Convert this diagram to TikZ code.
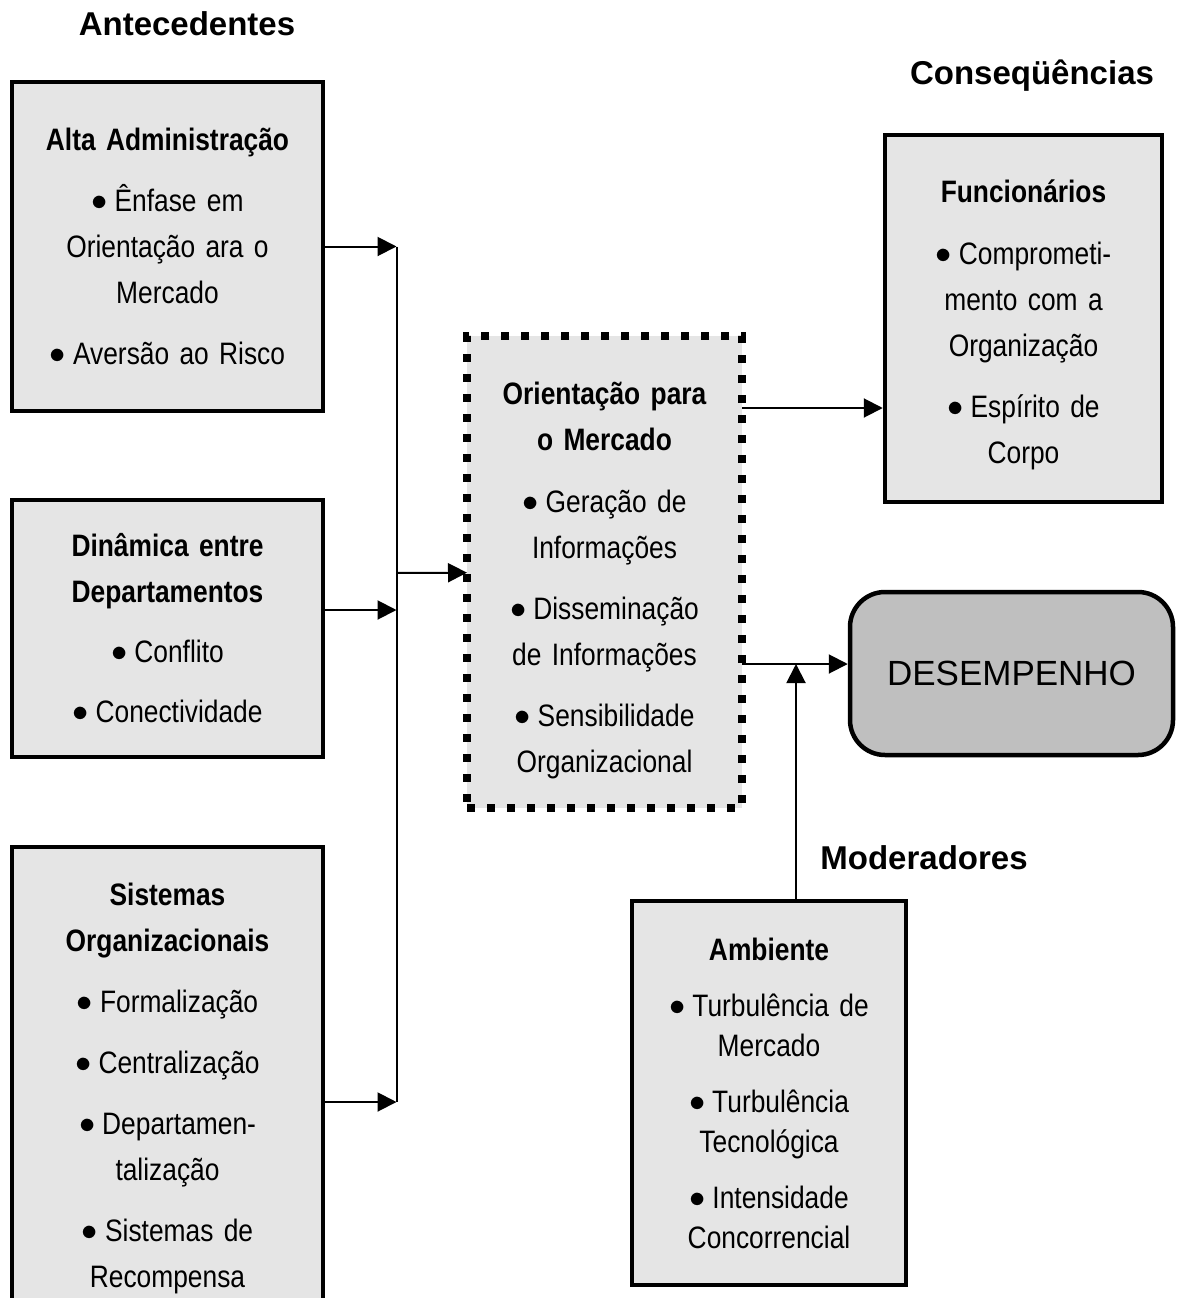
\documentclass[tikz,border=0pt]{standalone}
\usepackage{fontspec}
\usepackage{graphicx}
\setmainfont[FakeStretch=0.85]{Liberation Sans}
\newfontfamily\widefont{Liberation Sans}
\usetikzlibrary{positioning,arrows.meta}
\newcommand{\itm}{\raisebox{1pt}{\scalebox{1.3}{$\bullet$}}\hspace{7pt}}
\tikzstyle{B} = [rectangle,
			draw, line width=4.5pt, fill=black!10,
			text width=290pt, text centered, inner sep=0pt,
			minimum width=311pt,
			font=\fontsize{31}{46}\selectfont]
\tikzstyle{O} = [rectangle,
			draw, line width=8pt, dash pattern=on 8pt off 12pt,
			fill=black!10, text width=255pt, text centered,
			inner sep=0pt, outer sep=0pt,
			minimum width=275pt, minimum height=472pt,
			font=\fontsize{31}{46}\selectfont]
\tikzstyle{D} = [rectangle,
			draw, line width=4.5pt, fill=black!25,
			rounded corners=35pt, inner sep=0pt,
			minimum width=323pt, minimum height=163pt,
			font=\widefont\fontsize{35}{40}\selectfont]
\tikzstyle{H} = [font=\widefont\bfseries\fontsize{33}{40}\selectfont]
\tikzstyle{L} = [draw, line width=2pt, -{Triangle[length=19pt,width=19pt]}]

\begin{document}
\begin{tikzpicture}[x=1pt, y=1pt]

\useasboundingbox (0,0) rectangle (1176,-1298);

\node [H] at (187,-24)
(ante)
	{Antecedentes};

\node [H] at (1032,-76)
(conseq)
	{Conseqüências};

\node [H] at (924,-858)
(moder)
	{Moderadores};

\node [B, minimum height=329pt] at (167.5,-246.5)
(alta)
	{{\bfseries Alta Administração}\\[15pt]
	\itm Ênfase em\\Orientação ara o\\Mercado\\[15pt]
	\itm Aversão ao Risco};

\node [B, below of =alta, node distance =382pt, minimum height=257pt]
(din)
	{{\bfseries Dinâmica entre\\Departamentos}\\[14pt]
	\itm Conflito\\[14pt]
	\itm Conectividade};

\node [B, below of =din, node distance =460pt, minimum height=483pt]
(sis)
	{{\bfseries Sistemas\\Organizacionais}\\[15pt]
	\itm Formalização\\[15pt]
	\itm Centralização\\[15pt]
	\itm Departamen-\\talização\\[15pt]
	\itm Sistemas de\\Recompensa};

\node [O] at (604.5,-572)
(orient)
	{\rule{0pt}{39pt}{\bfseries Orientação para\\o Mercado}\\[16pt]
	\itm Geração de\\Informações\\[15pt]
	\itm Disseminação\\de Informações\\[15pt]
	\itm Sensibilidade\\Organizacional};

\node [B, minimum width=277pt, text width=260pt, minimum height=367pt] at (1023.5,-318.5)
(func)
	{\rule{0pt}{35pt}{\bfseries Funcionários}\\[16pt]
	\itm Comprometi-\\mento com a\\Organização\\[15pt]
	\itm Espírito de\\Corpo};

\node [D] at (1011.5,-673.5)
(desemp)
	{DESEMPENHO};

\node [B, minimum width=274pt, text width=260pt, minimum height=384pt,
	font=\fontsize{31}{40}\selectfont] at (769,-1093)
(amb)
	{{\bfseries Ambiente}\\[16pt]
	\itm Turbulência de\\Mercado\\[16pt]
	\itm Turbulência\\Tecnológica\\[16pt]
	\itm Intensidade\\Concorrencial};

\coordinate [right of =alta, node distance =229pt] (j1);
\coordinate [below of =j1, node distance =363.5pt] (j2);
\coordinate [below of =j1, node distance =855.5pt] (j3);
\coordinate [below of =j1, node distance =326.5pt] (jo);
\coordinate (fy) at (0,-408);
\coordinate (mj) at (796,-664);

\path[L] (alta) -- (j1);

\path[L] (din.east |- j2) -- (j2);

\path[L] (sis.east |- j3) -- (j3);

\draw[line width=2pt] (j1) -- (j3);

\path[L] (jo) -- (orient);

\path[L] (orient.east |- fy) -- (func.west |- fy);

\path[L] (orient.east |- mj) -- (desemp.west |- mj);

\path[L] (amb.north -| mj) -- (mj);

\end{tikzpicture}
\end{document}
